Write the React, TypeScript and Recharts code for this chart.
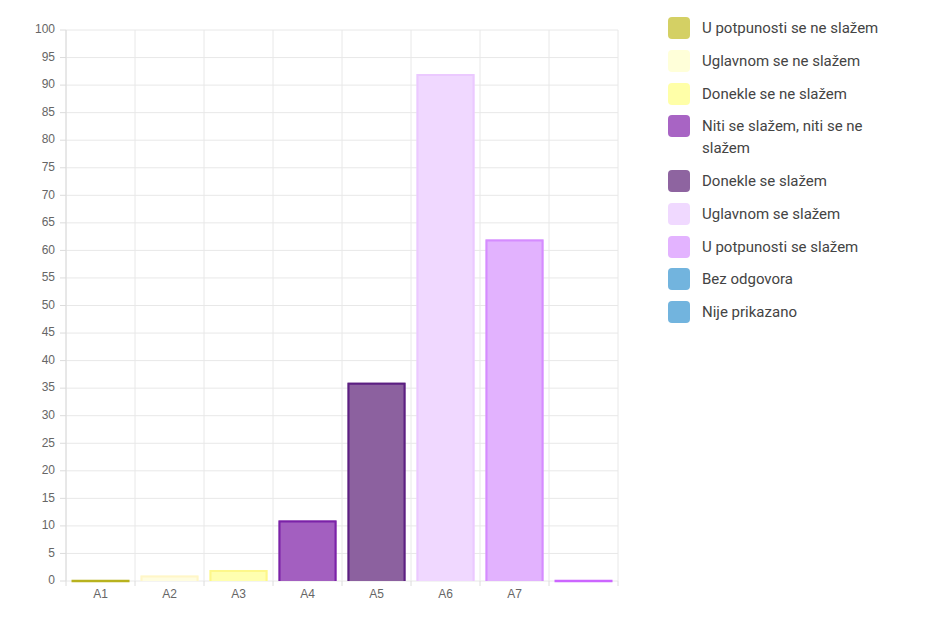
import React from 'react'
import { BarChart, Bar, XAxis, YAxis, CartesianGrid } from 'recharts'

const categories = ['A1', 'A2', 'A3', 'A4', 'A5', 'A6', 'A7', '']
const values = [0, 1, 2, 11, 36, 92, 62, 0]
const barFills = ['#d4d06a', '#fffde0', '#ffffb0', '#a35fc0', '#8c619f', '#f0d8ff', '#e2b2fe', '#e2b2fe']
const barStrokes = ['#b8b21e', '#fff6c8', '#fdf78a', '#7b22a8', '#5c1f82', '#ebc9ff', '#d58cff', '#cc66ff']
const yTicks = [0, 5, 10, 15, 20, 25, 30, 35, 40, 45, 50, 55, 60, 65, 70, 75, 80, 85, 90, 95, 100]

const legendLabels = [
    'U potpunosti se ne slažem',
    'Uglavnom se ne slažem',
    'Donekle se ne slažem',
    'Niti se slažem, niti se ne slažem',
    'Donekle se slažem',
    'Uglavnom se slažem',
    'U potpunosti se slažem',
    'Bez odgovora',
    'Nije prikazano'
]
const legendColors = ['#d4d064', '#ffffd9', '#ffffa8', '#a864c4', '#8e64a0', '#f0d9ff', '#e3b3ff', '#72b4de', '#72b4de']

const data = categories.map((name, i) => ({
    name,
    value: values[i],
    fill: barFills[i],
    stroke: barStrokes[i]
}))

const GRID = '#e8e8e8'
const AXIS = '#dcdcdc'

function BarShape(props: any) {
    const { x, y, width, height, payload } = props
    // zero values: chart shows only the border line on the baseline
    if (!height || height < 1) {
        return (
            <line x1={x} x2={x + width} y1={y} y2={y} stroke={payload.stroke} strokeWidth={2.5} />
        )
    }
    const bottom = y + height
    return (
        <g>
            <rect x={x} y={y} width={width} height={height} fill={payload.fill} />
            <path
                d={`M${x + 1},${bottom} V${y + 1} H${x + width - 1} V${bottom}`}
                fill="none"
                stroke={payload.stroke}
                strokeWidth={2}
            />
        </g>
    )
}

function XTick(props: any) {
    const { x, y, payload, index } = props
    const half = payload.offset || 34.5
    return (
        <g>
            <line x1={x - half} x2={x - half} y1={y - 8} y2={y - 3} stroke={AXIS} />
            {index === categories.length - 1 && (
                <line x1={x + half} x2={x + half} y1={y - 8} y2={y - 3} stroke={AXIS} />
            )}
            <text x={x} y={y + 9} textAnchor="middle" fill="#666" fontSize={12}>
                {payload.value}
            </text>
        </g>
    )
}

export default function App() {
    return (
        <div
            style={{
                position: 'relative',
                width: 936,
                height: 611,
                margin: '-1px 0 0 -1px',
                borderTop: '1px solid #e0e0e0',
                borderLeft: '1px solid #e0e0e0',
                fontFamily: 'Arial, "Liberation Sans", sans-serif'
            }}
        >
            <div style={{ position: 'absolute', left: 0, top: 0 }}>
                <BarChart
                    width={629}
                    height={611}
                    data={data}
                    margin={{ top: 22, right: 19, left: 0, bottom: 8 }}
                    barCategoryGap="8%"
                >
                    <CartesianGrid
                        stroke={GRID}
                        verticalCoordinatesGenerator={({ offset }: any) =>
                            Array.from({ length: categories.length + 1 }, (_, i) => offset.left + (i * offset.width) / categories.length)
                        }
                    />
                    <XAxis
                        dataKey="name"
                        height={30}
                        tickLine={false}
                        axisLine={false}
                        tick={<XTick />}
                        interval={0}
                    />
                    <YAxis
                        width={58}
                        domain={[0, 100]}
                        ticks={yTicks}
                        interval={0}
                        tickSize={6}
                        tickMargin={5}
                        axisLine={{ stroke: AXIS }}
                        tickLine={{ stroke: AXIS }}
                        tick={{ fill: '#666', fontSize: 12, dy: -1 }}
                    />
                    <Bar dataKey="value" shape={<BarShape />} isAnimationActive={false} />
                </BarChart>
            </div>
            <div
                style={{
                    position: 'absolute',
                    left: 660,
                    top: 9,
                    width: 250,
                    fontFamily: 'Roboto, sans-serif',
                    fontSize: 15,
                    color: '#444'
                }}
            >
                {legendLabels.map((label, i) => (
                    <div key={label} style={{ display: 'flex', alignItems: 'flex-start', marginBottom: 10.75 }}>
                        <div
                            style={{
                                width: 22,
                                height: 22,
                                borderRadius: 4,
                                background: legendColors[i],
                                flexShrink: 0
                            }}
                        />
                        <div style={{ marginLeft: 12, lineHeight: '22px', width: 195 }}>{label}</div>
                    </div>
                ))}
            </div>
        </div>
    )
}
